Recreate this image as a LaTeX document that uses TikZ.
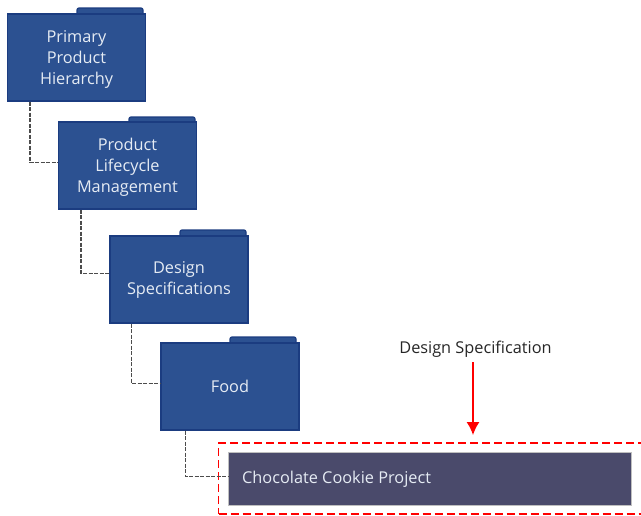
\documentclass[tikz,border=0pt]{standalone}
\usepackage{fontspec}
\usetikzlibrary{arrows.meta}
\setmainfont{Open Sans}
\definecolor{folderblue}{HTML}{2C5191}
\definecolor{folderedge}{HTML}{1B3C80}
\definecolor{projectgrey}{HTML}{4A4A6B}
\definecolor{labeltext}{HTML}{E6ECF4}
\newcommand{\topgap}{\rule{0pt}{16.5pt}}
\tikzset{
    folder/.style={rectangle, draw=folderedge, fill=folderblue, line width=1.2pt, minimum width=138pt, minimum height=87pt, align=center, text=labeltext, inner sep=0pt, font=\fontsize{16.3}{21}\selectfont},
    foldertab/.style={rectangle, rounded corners=2pt, draw=folderedge, fill=folderblue, line width=1.2pt, minimum width=66pt, minimum height=12pt, inner sep=0pt},
    link/.style={draw=black!70, dash pattern=on 4pt off 1.5pt, line width=1.2pt},
}
\begin{document}
\begin{tikzpicture}[x=1pt, y=-1pt]
    \useasboundingbox (0, 0) rectangle (641, 515);

    \node[foldertab] (t1) at (110, 14) {};
    \node[foldertab] (t2) at (162, 123) {};
    \node[foldertab] (t3) at (213, 236) {};
    \node[foldertab] (t4) at (263, 343) {};

    \node[folder] (f1) at (76.5, 57.5) {\topgap Primary\\Product\\Hierarchy};
    \node[folder] (f2) at (127.5, 165.5) {\topgap Product\\Lifecycle\\Management};
    \node[folder] (f3) at (179, 279.5) {Design\\Specifications};
    \node[folder] (f4) at (230, 386.5) {Food};

    \node[rectangle, draw=black!25, fill=projectgrey, minimum width=403pt, minimum height=53pt, inner sep=0pt] (p) at (429.5, 478.5) {};
    \node[text=labeltext, font=\fontsize{16.3}{21}\selectfont, anchor=west, inner sep=0pt] (pl) at (242, 479) {Chocolate Cookie Project};
    \node[rectangle, draw=red, dash pattern=on 8pt off 4pt, line width=1.1pt, minimum width=424pt, minimum height=71pt, inner sep=0pt] (sel) at (430.5, 478.5) {};

    \node[font=\fontsize{16.3}{21}\selectfont, text=black!85, inner sep=0pt] (d) at (475.5, 349.5) {Design Specification};
    \coordinate (a) at (473, 435);

    \draw[link] ([xshift=23pt]f1.south west) |- ([yshift=3pt]f2.west);
    \draw[link] ([xshift=23pt]f2.south west) |- ([yshift=6pt]f3.west);
    \draw[link] ([xshift=22pt]f3.south west) |- ([yshift=3pt]f4.west);
    \draw[link] ([xshift=25pt]f4.south west) |- ([yshift=2pt]p.west);
    \draw[red, line width=1.3pt, -{Latex[length=13pt, width=13pt]}] ([xshift=-2.5pt, yshift=-4.5pt]d.south) -- (a);
\end{tikzpicture}
\end{document}
